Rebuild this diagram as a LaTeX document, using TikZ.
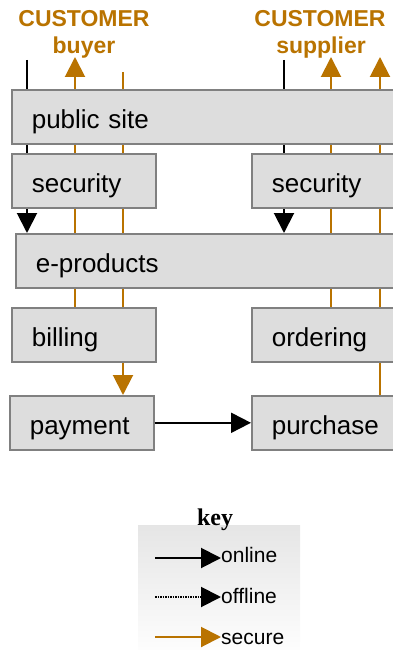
\documentclass[tikz,border=0pt]{standalone}
\usepackage{fontspec}
\setmainfont{Liberation Sans}
\newfontfamily\keyfont{Liberation Serif}
\usetikzlibrary{arrows.meta,backgrounds}

\definecolor{secorange}{RGB}{185,115,0}
\definecolor{boxfill}{RGB}{221,221,221}
\definecolor{boxline}{RGB}{128,128,128}

\tikzset{
  pagebox/.style={draw=boxline,fill=boxfill,line width=1.6pt,anchor=north west,
    text height=39pt,text depth=15pt,inner xsep=20pt,inner ysep=0pt,align=left,
    font=\fontsize{26}{28}\selectfont},
  custtitle/.style={anchor=base,inner sep=0pt,text=secorange,
    font=\fontsize{23}{25}\selectfont\bfseries},
  keytext/.style={anchor=base west,inner sep=0pt,font=\fontsize{21}{23}\selectfont},
  online/.style={draw=black,line width=2pt,-{Triangle[length=20pt,width=20pt]}},
  offline/.style={online,dash pattern=on 1.5pt off 1pt},
  secure/.style={draw=secorange,line width=2pt,
    -{Triangle[length=20pt,width=20pt,fill=secorange]}}
}

\begin{document}
\begin{tikzpicture}[x=1pt,y=-1pt]
  \clip (0,0) rectangle (393,650);

  % customers
  \node[custtitle] (buyertop) at (84,27) {CUSTOMER};
  \node[custtitle] (buyer) at (84,54) {buyer};
  \node[custtitle] (suppliertop) at (320,27) {CUSTOMER};
  \node[custtitle] (supplier) at (321,54) {supplier};

  % pages
  \node[pagebox,text width=400pt] (public) at (11,89) {public site};
  \node[pagebox,text width=104pt] (secbuyer) at (11,153) {security};
  \node[pagebox,text width=160pt] (secsupplier) at (251,153) {security};
  \node[pagebox,text width=400pt] (eprod) at (15,233) {e-products};
  \node[pagebox,text width=104pt] (billing) at (11,307) {billing};
  \node[pagebox,text width=160pt] (ordering) at (251,307) {ordering};
  \node[pagebox,text width=104pt] (payment) at (9,395) {payment};
  \node[pagebox,text width=160pt] (purchase) at (251,395) {purchase};

  \coordinate (buyerin) at (27,60);
  \coordinate (buyerout) at (75,57);
  \coordinate (buyerpay) at (123,72);
  \coordinate (supplierin) at (284,60);
  \coordinate (supplierout) at (331,57);
  \coordinate (supplierbuy) at (380,57);

  \begin{pgfonlayer}{background}
    \draw[online] (buyerin) -- (eprod.north -| buyerin);
    \draw[secure] (billing.north -| buyerout) -- (buyerout);
    \draw[secure] (buyerpay) -- (payment.north -| buyerpay);
    \draw[online] (supplierin) -- (eprod.north -| supplierin);
    \draw[secure] (ordering.north -| supplierout) -- (supplierout);
    \draw[secure] (purchase.north -| supplierbuy) -- (supplierbuy);
  \end{pgfonlayer}
  \draw[online] (payment) -- (purchase);

  % key
  \shade[top color=black!10,bottom color=white] (138,525) rectangle (300,660);
  \node[anchor=base,inner sep=0pt,font=\keyfont\fontsize{24}{26}\selectfont\bfseries] (key) at (215,525) {key};
  \node[keytext] (lonline) at (221,562) {online};
  \node[keytext] (loffline) at (221,603) {offline};
  \node[keytext] (lsecure) at (221,644) {secure};
  \coordinate (konline) at (155,558);
  \coordinate (koffline) at (155,597);
  \coordinate (ksecure) at (155,637);
  \draw[online] (konline) -- (konline -| lonline.west);
  \draw[offline] (koffline) -- (koffline -| loffline.west);
  \draw[secure] (ksecure) -- (ksecure -| lsecure.west);
\end{tikzpicture}
\end{document}
